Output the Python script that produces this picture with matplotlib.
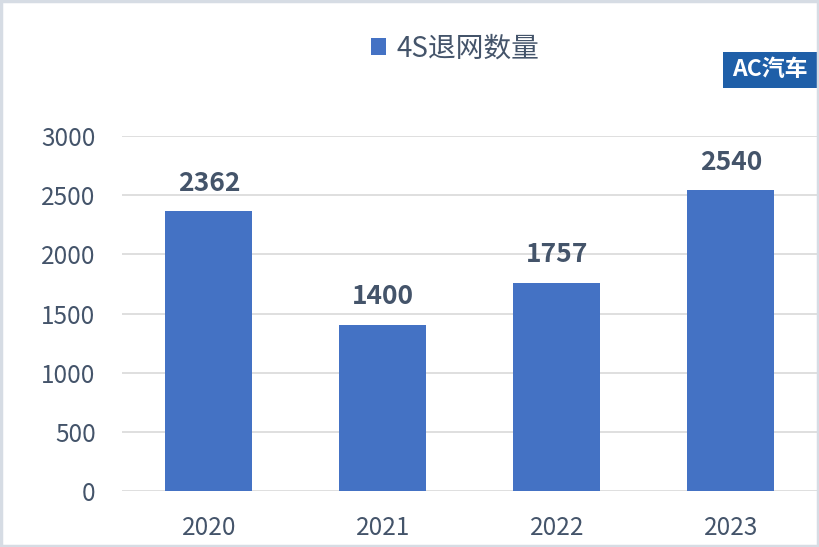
import matplotlib
matplotlib.use("Agg")
import matplotlib.pyplot as plt
from matplotlib.patches import Rectangle

plt.rcParams['font.family'] = ['Noto Sans CJK SC', 'DejaVu Sans']

years = ["2020", "2021", "2022", "2023"]
counts = [2362, 1400, 1757, 2540]
yticks = [0, 500, 1000, 1500, 2000, 2500, 3000]
series_name = "4S退网数量"

bar_color = "#4472c4"
text_color = "#44546a"
grid_color = "#d9d9d9"

fig = plt.figure(figsize=(8.2, 5.47), dpi=100)
ax = fig.add_axes([122/820, 56/547, 696/820, 355/547])

x = range(len(years))
bars = ax.bar(x, counts, width=0.5, color=bar_color, label=series_name, zorder=3)
ax.set_xlim(-0.5, len(years) - 0.5)
ax.set_ylim(0, 3000)
ax.set_yticks(yticks)
ax.set_xticks(list(x))
ax.set_xticklabels(years)
ax.yaxis.grid(True, color=grid_color, linewidth=1.2, zorder=0)
ax.set_axisbelow(True)
for s in ax.spines.values():
    s.set_visible(False)
ax.tick_params(axis='both', length=0, colors=text_color, labelsize=17.5)
ax.tick_params(axis='y', pad=19)
ax.tick_params(axis='x', pad=17)

for rect, v in zip(bars, counts):
    ax.annotate(f"{v}", xy=(rect.get_x() + rect.get_width()/2, v),
                xytext=(0, 15), textcoords='offset points',
                ha='center', va='baseline', fontsize=19, fontweight='bold',
                color=text_color)

leg = fig.legend(loc='center', bbox_to_anchor=(0.555, 0.912), frameon=False,
                 handlelength=0.55, handleheight=0.55, handletextpad=0.35,
                 prop={'size': 20, 'weight': 'light'}, labelcolor=text_color)

# logo box
fig.patches.append(Rectangle((723/820, 1-88/547), 95/820, 36/547,
                             transform=fig.transFigure, facecolor="#1f5fa8",
                             edgecolor='none', zorder=5))
fig.text(770/820, 1-70/547, "AC汽车", color='white', fontsize=16.5,
         fontweight='bold', ha='center', va='center', zorder=6)

# outer border
fig.patches.append(Rectangle((0.001, 0.002), 0.997, 0.996, transform=fig.transFigure,
                             facecolor='none', edgecolor="#d6dce4", linewidth=2.5, zorder=10))

fig.savefig("out.png", dpi=100)
